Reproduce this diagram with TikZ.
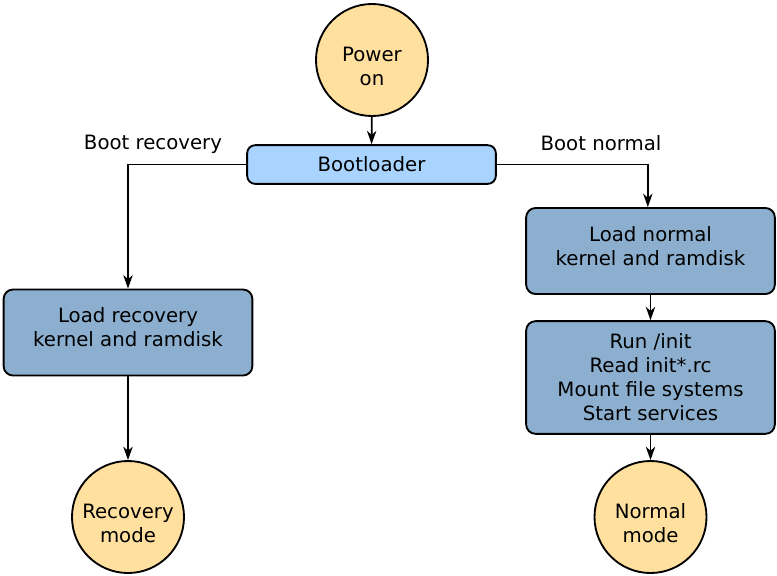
\documentclass[tikz,border=0pt]{standalone}
\usepackage{fontspec}
\setmainfont{DejaVu Sans}
\usetikzlibrary{shapes.geometric, arrows, arrows.meta, positioning}
\definecolor{stateorange}{HTML}{FFE09F}
\definecolor{loaderblue}{HTML}{A8D4FF}
\definecolor{stepblue}{HTML}{8CAFCF}

\begin{document}
\begin{tikzpicture}[x=0.75pt, y=-0.75pt, font=\fontsize{14.8}{18}\selectfont]
\tikzstyle{state} = [circle, minimum size=84pt, inner sep=0pt, draw=black, fill=stateorange, line width=1.4pt]
\tikzstyle{statetext} = [align=center, yshift=-4.5pt]
\tikzstyle{steptext} = [align=center, yshift=4pt]
\tikzstyle{stepbox} = [rectangle, rounded corners=7pt, minimum width=186.5pt, align=center, draw=black, fill=stepblue, line width=1.4pt]
\tikzstyle{flow} = [-{Stealth[length=10pt, width=7pt, inset=3pt]}, line width=1.3pt]

\useasboundingbox (0,0) rectangle (777,575);

% States
\node (power) [state, label={[statetext]center:Power\\on}] at (372,60) {};
\node (recmode) [state, label={[statetext]center:Recovery\\mode}] at (128,517) {};
\node (normmode) [state, label={[statetext]center:Normal\\mode}] at (650.5,517) {};

% Boot steps
\node (boot) [stepbox, fill=loaderblue, minimum height=29pt, rounded corners=6pt] at (371.5,164.5) {Bootloader};
\node (loadrec) [stepbox, minimum height=64.5pt, label={[steptext]center:Load recovery\\kernel and ramdisk}] at (128,332.5) {};
\node (loadnorm) [stepbox, minimum height=64.5pt, label={[steptext]center:Load normal\\kernel and ramdisk}] at (650.5,251) {};
\node (init) [stepbox, minimum height=84.5pt] at (650.5,377.5) {Run /init\\Read init*.rc\\Mount file systems\\Start services};

% Branch labels
\node (lblrec) at (153,144.5) {Boot recovery};
\node (lblnorm) at (601,143) {Boot normal};

% Connectors
\draw[flow] (power) -- (boot);
\draw[flow] (boot.west) -| (loadrec.north);
\draw[flow] (boot.east) -| ([xshift=-2pt]loadnorm.north);
\draw[flow] (loadnorm) -- (init);
\draw[flow] (init) -- (normmode);
\draw[flow] (loadrec) -- (recmode);

\end{tikzpicture}
\end{document}
